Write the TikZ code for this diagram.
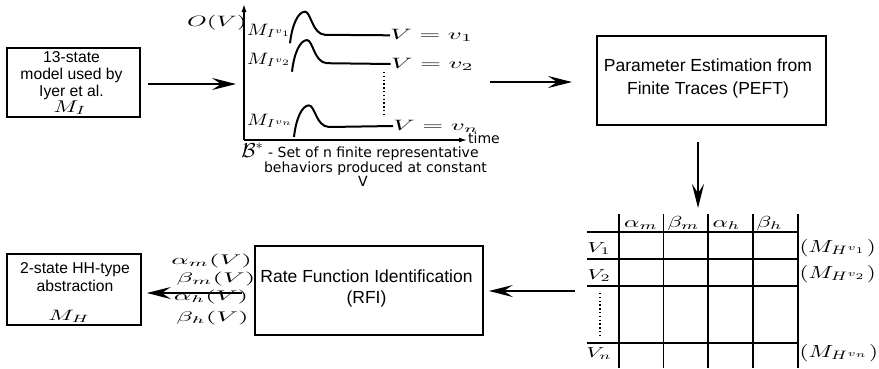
\documentclass[tikz,border=0pt]{standalone}
\usepackage{fontspec}
\usepackage{graphicx}
\newfontfamily\arialf{Liberation Sans}
\newfontfamily\dejaf{DejaVu Sans}
\usetikzlibrary{arrows.meta}
\newcommand{\smx}[3]{\scalebox{#1}[#2]{$#3$}}
\begin{document}
\begin{tikzpicture}[x=1pt,y=-1pt,
  box/.style={draw,line width=1.6pt,rectangle,inner sep=0pt},
  bigtxt/.style={font=\arialf\fontsize{17.5}{21}\selectfont,inner sep=0pt},
  smalltxt/.style={font=\arialf\fontsize{15.7}{19}\selectfont,inner sep=0pt},
  captxt/.style={font=\dejaf\fontsize{14}{16}\selectfont,inner sep=0pt},
  mth/.style={inner sep=0pt},
  flow/.style={line width=1.3pt,-{Stealth[length=24pt,width=12pt,inset=9pt]}},
  axis/.style={line width=1.2pt,-{Latex[length=8pt,width=5pt]}},
  trace/.style={line width=2pt},
  grid/.style={line width=1.6pt},
  dots/.style={line width=1.3pt,dash pattern=on 1.3pt off 2.5pt}
]
\useasboundingbox (0,0) rectangle (879,368);

% ---- MI box
\node[box,minimum width=133pt,minimum height=69pt] (mi) at (73.5,82.5) {};
\node[smalltxt,anchor=base] (mi1) at (71.5,62) {13-state};
\node[smalltxt,anchor=base] (mi2) at (71.5,79) {model used by};
\node[smalltxt,anchor=base] (mi3) at (71.5,96) {Iyer et al.};
\node[mth,anchor=base] (mi4) at (70,112) {\smx{2.3}{1.7}{M_I}};

% ---- PEFT box
\node[box,minimum width=229pt,minimum height=89pt] (peft) at (711.5,80.5) {};
\node[bigtxt,anchor=base] (peft1) at (708,71.5) {Parameter Estimation from};
\node[bigtxt,anchor=base] (peft2) at (708,94) {Finite Traces (PEFT)};

% ---- RFI box
\node[box,minimum width=228pt,minimum height=89pt] (rfi) at (369,290.5) {};
\node[bigtxt,anchor=base] (rfi1) at (366.5,282.5) {Rate Function Identification};
\node[bigtxt,anchor=base] (rfi2) at (366.5,303) {(RFI)};

% ---- MH box
\node[box,minimum width=134pt,minimum height=71pt] (mh) at (74,289.5) {};
\node[smalltxt,anchor=base] (mh1) at (75,273) {2-state HH-type};
\node[smalltxt,anchor=base] (mh2) at (75,291) {abstraction};
\node[mth,anchor=base] (mh3) at (69,320) {\smx{2.4}{1.5}{M_H}};

% ---- plot
\draw[axis] (244,140) -- (244,4);
\draw[axis] (244,140) -- (467,140);
\node[captxt,anchor=base west] (time) at (468,143.5) {time};
\node[mth,anchor=base west] (ov) at (187,26.7) {\smx{2.5}{1.5}{O(V)}};

\node[mth,anchor=base west] (m1) at (247,35) {\smx{2.0}{1.65}{M_{I^{v_1}}}};
\node[mth,anchor=base west] (m2) at (247,64) {\smx{2.0}{1.65}{M_{I^{v_2}}}};
\node[mth,anchor=base west] (mn) at (247,125) {\smx{2.0}{1.65}{M_{I^{v_n}}}};
\node[mth,anchor=base west] (v1) at (390,39.3) {\smx{2.7}{1.5}{V=v_1}};
\node[mth,anchor=base west] (v2) at (390.7,68) {\smx{2.7}{1.5}{V=v_2}};
\node[mth,anchor=base west] (vn) at (393,130) {\smx{2.7}{1.5}{V=v_n}};

\draw[trace] (290,43.3) .. controls (292,25) and (298,11.7) .. (305,11.7)
  .. controls (311,11.7) and (312,34.1) .. (325,34.8) -- (v1.west);
\draw[trace] (292,71.7) .. controls (294,53.4) and (300,40.1) .. (307,40.1)
  .. controls (313,40.1) and (314,62.5) .. (327,63.2) -- (v2.west);
\draw[trace] (294,137) .. controls (296,118.7) and (302,105.4) .. (309,105.4)
  .. controls (315,105.4) and (316,126.5) .. (329,127) -- (vn.west);
\draw[dots] (384,72) -- (384,115);

\node[captxt,anchor=base] (cap1) at (360,157) {\smx{1.45}{1.4}{\mathcal{B}^*} - Set of n finite representative};
\node[captxt,anchor=base] (cap2) at (375.5,172) {behaviors produced at constant};
\node[captxt,anchor=base] (cap3) at (363,186) {V};

% ---- table
\foreach \yy in {232,259,286,343} \draw[grid] (587,\yy) -- (798,\yy);
\foreach \xx in {619,663.5,708,753,798} \draw[grid] (\xx,214) -- (\xx,368);
\node[mth,anchor=base] (ham) at (641,227) {\smx{2.4}{1.6}{\alpha_m}};
\node[mth,anchor=base] (hbm) at (683.5,227) {\smx{2.4}{1.6}{\beta_m}};
\node[mth,anchor=base] (hah) at (726.5,227) {\smx{2.4}{1.6}{\alpha_h}};
\node[mth,anchor=base] (hbh) at (769.5,227) {\smx{2.4}{1.6}{\beta_h}};
\node[mth,anchor=base] (r1) at (599,252.5) {\smx{2.25}{1.45}{V_1}};
\node[mth,anchor=base] (r2) at (599,279) {\smx{2.25}{1.45}{V_2}};
\node[mth,anchor=base] (rn) at (599,357) {\smx{2.25}{1.45}{V_n}};
\draw[dots] (600,293) -- (600,335);
\node[mth,anchor=base west] (o1) at (799.5,252) {\smx{2.3}{1.75}{(M_{H^{v_1}})}};
\node[mth,anchor=base west] (o2) at (799.5,278) {\smx{2.3}{1.75}{(M_{H^{v_2}})}};
\node[mth,anchor=base west] (on) at (799.5,357) {\smx{2.3}{1.75}{(M_{H^{v_n}})}};

% ---- rate labels
\node[mth,anchor=base] (am) at (211.7,264) {\smx{2.7}{1.4}{\alpha_m(V)}};
\node[mth,anchor=base] (bm) at (216,282.5) {\smx{2.7}{1.4}{\beta_m(V)}};
\node[mth,anchor=base] (ah) at (211,300) {\smx{2.7}{1.4}{\alpha_h(V)}};
\node[mth,anchor=base] (bh) at (212.5,321) {\smx{2.7}{1.4}{\beta_h(V)}};

% ---- connectors
\coordinate (plotL) at (236,84);
\coordinate (plotR) at (490,82);
\coordinate (tblT) at (698,208);
\coordinate (tblL) at (575,291);
\draw[flow] ([xshift=7pt,yshift=-1.5pt]mi.east) -- (plotL);
\draw[flow] (plotR) -- ([xshift=-24.2pt,yshift=-1.5pt]peft.west);
\draw[flow] ([xshift=-13.5pt,yshift=-16.2pt]peft.south) -- (tblT);
\draw[flow] (tblL) -- ([xshift=5pt,yshift=-0.5pt]rfi.east);
\draw[flow] ([xshift=-12pt,yshift=-2.5pt]rfi.west) -- ([xshift=5pt,yshift=-3.5pt]mh.east);
\end{tikzpicture}
\end{document}
